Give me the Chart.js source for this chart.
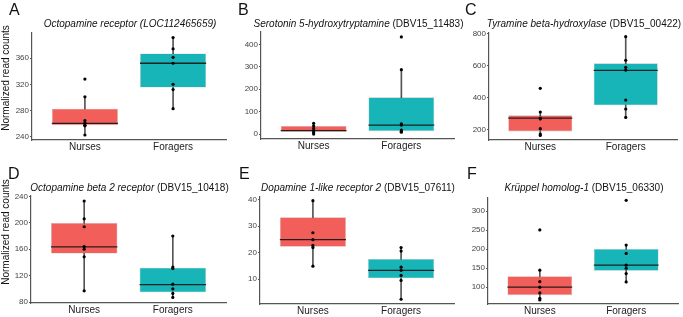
<!DOCTYPE html>
<html>
<head>
<meta charset="utf-8">
<script src="https://cdn.jsdelivr.net/npm/chart.js@4.4.1/dist/chart.umd.min.js"></script>
<style>
  html, body { margin: 0; padding: 0; background: #fff; }
  #wrap { position: relative; width: 683px; height: 317px; overflow: hidden; background: #fff;
          font-family: "Liberation Sans", Arial, Helvetica, sans-serif; }
  canvas { position: absolute; }
  .title { position: absolute; width: 300px; text-align: center; white-space: nowrap;
           font-size: 10px; line-height: 12px; color: #111; }
  .letter { position: absolute; font-size: 16px; line-height: 16px; color: #111; }
  .ylab { position: absolute; width: 150px; text-align: center; font-size: 10px; line-height: 12px;
          color: #111; transform: rotate(-90deg); white-space: nowrap; }
</style>
</head>
<body>
<div id="wrap"></div>
<script>
// ---------------- data ----------------
const categories = ['Nurses', 'Foragers'];
const panelLetters = ['A', 'B', 'C', 'D', 'E', 'F'];
const geneNames = ['Octopamine receptor (LOC112465659)', 'Serotonin 5-hydroxytryptamine', 'Tyramine beta-hydroxylase',
                   'Octopamine beta 2 receptor', 'Dopamine 1-like receptor 2', 'Krüppel homolog-1'];
const geneIds = ['', '(DBV15_11483)', '(DBV15_00422)', '(DBV15_10418)', '(DBV15_07611)', '(DBV15_06330)'];
const yAxisTitle = 'Normalized read counts';

const yTicks = [
  [240, 280, 320, 360],
  [0, 100, 200, 300, 400],
  [200, 400, 600, 800],
  [80, 120, 160, 200, 240],
  [10, 20, 30, 40],
  [100, 150, 200, 250, 300]
];
const yMin = [235.4, -22, 133, 78.5, 0.6, 55.8];
const yMax = [398, 455, 806, 240.6, 41, 335];

// box statistics per panel: [Nurses, Foragers]
const q1 = [[258, 315], [10, 13], [187, 351], [153.5, 94.7], [22.2, 10.3], [79, 143.4]];
const median = [[260.7, 352], [15, 40], [271, 571], [163.6, 106.4], [24.9, 13.3], [100, 158.4]];
const q3 = [[283, 367], [36, 164], [288, 615], [200, 132], [33.4, 17.6], [129, 201]];
const whiskerLow = [[243, 283], [0, 8], [162, 275], [97, 87], [15, 2.4], [67, 114]];
const whiskerHigh = [[301, 391], [48, 287], [309, 783], [233, 180], [39.6, 21.9], [145, 211]];

const nursesPoints = [
  [328, 301, 265, 261, 258, 257, 243],
  [48, 36, 25, 15, 6, 0],
  [458, 309, 271, 265, 204, 170, 162],
  [233, 206, 194, 164, 160, 148.5, 97],
  [39.6, 27.5, 24.9, 22.7, 21.9, 14.9],
  [251, 145, 114.6, 100, 85, 71, 66.6]
];
const foragersPoints = [
  [391, 374, 361, 352, 320, 312, 283],
  [433, 287, 45, 40, 18, 12, 8],
  [783, 634, 590, 573, 384, 328, 275],
  [180, 133, 130.6, 107, 100, 93, 87],
  [21.9, 20.6, 14.5, 13.3, 11.4, 9.5, 2.4],
  [329, 211, 189, 158, 150, 136, 114]
];

// ---------------- layout (page pixels of each plot area) ----------------
const plotRects = [
  {l: 32, t: 33, r: 228, b: 140},
  {l: 261, t: 32, r: 456, b: 139},
  {l: 489, t: 33, r: 679, b: 140},
  {l: 31, t: 196, r: 228, b: 303},
  {l: 260, t: 197, r: 456, b: 304},
  {l: 488, t: 198, r: 680, b: 304}
];
const letterPos = [[9, 1.5], [238, 1.5], [465, 1.5], [8, 165.5], [239, 166], [467, 166]];
const titleTop = [18, 18, 18, 182, 182, 182];
const ylabCenters = [[6, 78], [6, 232]];

const boxColors = ['#F25F5B', '#17B5B7'];
const Y_AXIS_W = 30, X_AXIS_H = 18, PAD_TOP = 6, PAD_RIGHT = 2;

const wrap = document.getElementById('wrap');

const medianPlugin = {
  id: 'medianLine',
  afterDatasetDraw(chart, args) {
    const ds = chart.data.datasets[args.index];
    if (!ds.medians) return;
    const ctx = chart.ctx;
    const yScale = chart.scales.y;
    ctx.save();
    ctx.strokeStyle = 'rgba(20,20,20,0.9)';
    ctx.lineWidth = 1.3;
    args.meta.data.forEach((bar, i) => {
      const y = yScale.getPixelForValue(ds.medians[i]);
      ctx.beginPath();
      ctx.moveTo(bar.x - bar.width / 2, y);
      ctx.lineTo(bar.x + bar.width / 2, y);
      ctx.stroke();
    });
    ctx.restore();
  }
};

for (let p = 0; p < 6; p++) {
  const R = plotRects[p];
  const cv = document.createElement('canvas');
  const w = R.r - R.l + Y_AXIS_W + PAD_RIGHT;
  const h = R.b - R.t + PAD_TOP + X_AXIS_H;
  cv.width = w; cv.height = h;
  cv.style.left = (R.l - Y_AXIS_W) + 'px';
  cv.style.top = (R.t - PAD_TOP) + 'px';
  cv.style.width = w + 'px'; cv.style.height = h + 'px';
  wrap.appendChild(cv);

  const pts = [];
  nursesPoints[p].forEach(v => pts.push({x: 1, y: v}));
  foragersPoints[p].forEach(v => pts.push({x: 2, y: v}));

  new Chart(cv, {
    type: 'bar',
    data: {
      datasets: [
        {
          type: 'bar',
          data: [0, 1].map(i => ({x: i + 1, y: [whiskerLow[p][i], whiskerHigh[p][i]]})),
          backgroundColor: '#555',
          barThickness: 1,
          grouped: false,
          order: 3
        },
        {
          type: 'bar',
          data: [0, 1].map(i => ({x: i + 1, y: [q1[p][i], q3[p][i]]})),
          medians: median[p],
          backgroundColor: boxColors,
          borderColor: 'rgba(0,0,0,0.25)',
          borderWidth: 0.6,
          borderSkipped: false,
          barPercentage: 0.75,
          categoryPercentage: 1,
          grouped: false,
          order: 2
        },
        {
          type: 'scatter',
          data: pts,
          backgroundColor: '#000',
          borderWidth: 0,
          pointRadius: 1.6,
          order: 0
        }
      ]
    },
    options: {
      responsive: false,
      animation: false,
      devicePixelRatio: 1,
      layout: {padding: {top: PAD_TOP, right: PAD_RIGHT, left: 0, bottom: 0}},
      plugins: {legend: {display: false}, tooltip: {enabled: false}, title: {display: false}},
      scales: {
        x: {
          type: 'linear',
          min: 0.4, max: 2.6,
          offset: false,
          afterBuildTicks: s => { s.ticks = categories.map((c, i) => ({value: i + 1})); },
          afterFit: s => { s.height = X_AXIS_H; },
          ticks: {
            callback: (v, i) => categories[i],
            font: {family: '"Liberation Sans", Arial, sans-serif', size: 10},
            color: '#222',
            padding: 1,
            maxRotation: 0,
            autoSkip: false
          },
          grid: {display: true, drawOnChartArea: false, drawTicks: false, offset: false},
          border: {display: true, color: '#555', width: 1.2}
        },
        y: {
          type: 'linear',
          min: yMin[p], max: yMax[p],
          afterBuildTicks: s => { s.ticks = yTicks[p].map(v => ({value: v})); },
          afterFit: s => { s.width = Y_AXIS_W; },
          ticks: {
            font: {family: '"Liberation Sans", Arial, sans-serif', size: 8},
            color: '#444',
            padding: 1
          },
          grid: {display: true, drawOnChartArea: false, drawTicks: true, tickLength: 2, color: '#555', tickWidth: 1},
          border: {display: true, color: '#555', width: 1.2}
        }
      }
    },
    plugins: [medianPlugin]
  });

  // title
  const t = document.createElement('div');
  t.className = 'title';
  const cx = (R.l + R.r) / 2;
  t.style.left = (cx - 150) + 'px';
  t.style.top = titleTop[p] + 'px';
  const it = document.createElement('i');
  it.textContent = geneNames[p];
  t.appendChild(it);
  if (geneIds[p]) t.appendChild(document.createTextNode(' ' + geneIds[p]));
  wrap.appendChild(t);

  // letter
  const L = document.createElement('div');
  L.className = 'letter';
  L.textContent = panelLetters[p];
  L.style.left = letterPos[p][0] + 'px';
  L.style.top = letterPos[p][1] + 'px';
  wrap.appendChild(L);
}

ylabCenters.forEach(c => {
  const d = document.createElement('div');
  d.className = 'ylab';
  d.textContent = yAxisTitle;
  d.style.left = (c[0] - 75) + 'px';
  d.style.top = (c[1] - 6) + 'px';
  wrap.appendChild(d);
});
</script>
</body>
</html>
